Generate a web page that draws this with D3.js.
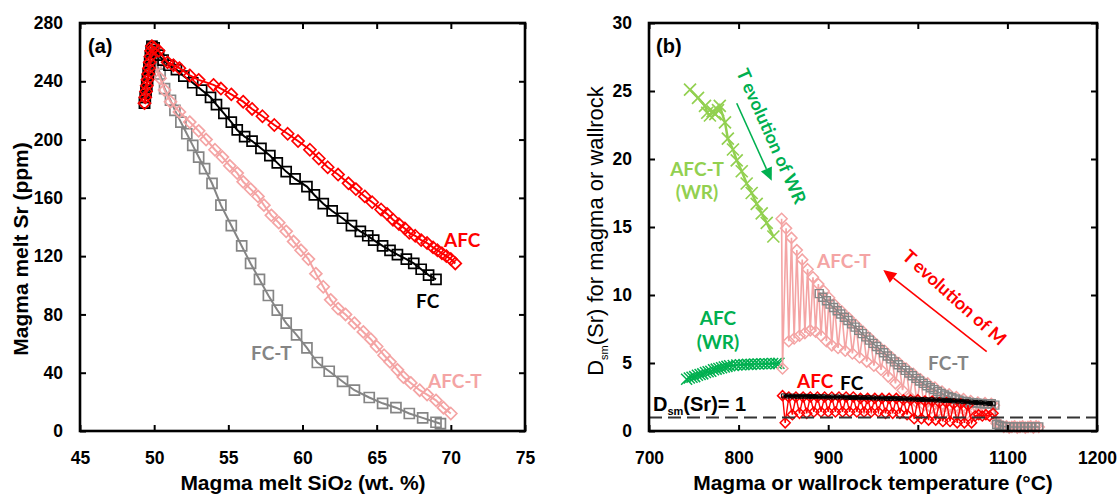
<!DOCTYPE html>
<html><head><meta charset="utf-8">
<script src="https://cdn.jsdelivr.net/npm/d3@7"></script>
<style>
body{margin:0;background:#fff}
svg{display:block}
.tick text{font-family:"Liberation Sans",Arial,sans-serif;font-weight:bold;font-size:17.5px;fill:#000}
.tick line{stroke:#000;stroke-width:2}
.domain{display:none}
.ann{font-family:Lato,"Open Sans",sans-serif;font-weight:bold}
.ax{font-family:"Liberation Sans",Arial,sans-serif}
</style></head><body><svg id="c" width="1120" height="495"></svg>
<script>
// ---------- Panel (a) data: [SiO2 wt.%, Sr ppm] ----------
const startA = [[49.35,225],[49.4,229],[49.45,233],[49.5,237],[49.55,241],[49.6,245],[49.65,249],[49.7,253],[49.75,257],[49.8,261],[49.85,264]];
const fcA = [[50.0,263],[50.3,258],[50.6,254.5],[51.0,251],[51.5,248],[52.0,243.5],[52.6,239],[53.2,234],[53.8,229],[54.2,224],[54.7,218],[55.2,212],[55.6,206.6],[56.1,202],[56.6,199],[57.2,194],[57.8,189],[58.3,184],[58.9,178],[59.5,173],[60.3,167.7],[60.8,162],[61.4,156],[62.0,151],[62.7,146],[63.3,141],[63.9,137],[64.4,134],[64.8,131],[65.4,127],[65.9,124],[66.4,121],[67.0,118],[67.5,115],[68.0,111],[68.5,107],[69.0,104]];
const afcA = [[50.0,263],[50.3,261],[50.9,253],[51.3,251],[51.7,249],[52.4,244],[53.0,241],[54.0,237.5],[54.5,235],[55.2,231],[56.0,226],[56.6,221],[57.3,216],[58.1,210],[59.0,204],[59.7,199],[60.5,193],[61.1,187],[61.7,181],[62.4,176],[63.1,170],[63.6,166],[64.2,161],[64.7,157],[65.3,152],[65.7,149],[66.1,145],[66.5,142],[66.9,139],[67.2,136],[67.6,134],[68.0,131],[68.4,129],[68.8,126],[69.1,124],[69.4,122],[69.7,120],[70.0,118],[70.3,115]];
const afcTA = [[50.1,250],[50.4,242],[50.7,234],[51.1,226],[51.7,219],[52.4,212],[53.0,206],[53.5,200],[54.1,193],[54.6,188],[55.1,182],[55.6,177],[56.0,171],[56.5,166],[57.0,161],[57.4,155],[57.9,148],[58.4,143],[58.9,137],[59.4,130],[59.9,124],[60.4,118],[60.9,108],[61.4,99],[61.9,90],[62.4,84],[62.9,80],[63.5,74],[64.1,68],[64.6,63],[65.0,58],[65.5,52],[65.9,47.5],[66.4,42],[66.8,37],[67.3,33],[67.9,28],[68.4,25],[69.0,21],[69.5,16],[70.0,12]];
const fcTA = [[50.0,258],[50.4,245],[50.7,235],[51.1,227],[51.4,220],[51.8,212],[52.2,204],[52.6,196],[53.0,188],[53.4,180],[53.9,170],[54.5,155],[55.2,141],[55.9,127],[56.5,115],[57.1,104],[57.7,93],[58.3,83],[58.9,74],[59.6,66],[60.3,57],[61.0,47],[61.8,41],[62.7,34],[63.5,28],[64.5,23],[65.4,19],[66.3,16],[67.2,12],[68.1,9],[69.0,6],[69.3,5]];
const xTicksA = [45,50,55,60,65,70,75];
const yTicksA = [0,40,80,120,160,200,240,280];

// ---------- Panel (b) data: [temperature °C, Dsm(Sr)] ----------
const wrAfcT = [[745.8,25.1],[754.7,24.5],[762.5,23.9],[765,23.4],[768,23.2],[771,23.5],[774,23.3],[777,23.6],[779,23.9],[784.8,22.7],[788,21.5],[793.7,20.7],[797.9,19.9],[803.5,19.1],[809,18.2],[814.6,17.5],[820.2,16.7],[825.8,16.0],[831.4,15.3],[838.8,14.3]];
const wrAfc = [[742,3.8],[745,3.9],[748,3.95],[751,4.0],[754,4.1],[757,4.15],[760,4.2],[763,4.3],[766,4.35],[769,4.4],[772,4.5],[775,4.55],[778,4.6],[781,4.65],[784,4.7],[787,4.75],[790,4.8],[794,4.82],[798,4.85],[802,4.87],[806,4.88],[810,4.9],[814,4.9],[818,4.92],[822,4.93],[826,4.94],[830,4.95],[834,4.95],[838,4.96],[842,4.97],[845,4.98]];
const mAfcT = [[1135,0.3],[1132,0.35],[1129,0.25],[1126,0.35],[1123,0.3],[1120,0.25],[1117,0.35],[1114,0.3],[1111,0.25],[1108,0.35],[1105,0.3],[1102,0.25],[1099,0.35],[1096,0.3],[1093,0.4],[1090,0.45],[1088,0.55],[1086,0.8],[1085,1.9],[1082,2.0],[1079,1.7],[1075,2.05],[1071,1.5],[1067,2.1],[1063,1.4],[1059,2.2],[1055,1.3],[1051,2.35],[1047,1.3],[1043,2.5],[1039,1.3],[1035,2.7],[1031,1.4],[1027,2.9],[1023,1.5],[1019,3.2],[1015,1.7],[1011,3.5],[1007,1.9],[1003,3.8],[999,2.1],[995,4.2],[991,2.5],[987,4.6],[983,3.0],[979,5.0],[975,3.5],[971,5.4],[967,4.0],[963,5.9],[959,4.5],[955,6.3],[951,4.8],[947,6.8],[943,5.1],[939,7.3],[935,5.4],[931,7.8],[927,5.7],[923,8.3],[919,5.9],[915,8.8],[911,6.1],[907,9.3],[904,6.3],[901,9.8],[898,6.6],[895,10.3],[892,7.0],[889,10.8],[886,7.3],[883,11.3],[880,7.4],[877,11.9],[874,7.2],[871,12.6],[868,7.0],[865,13.3],[862,6.8],[859,14.2],[856,6.6],[853,14.9],[849,4.6],[848,15.6]];
const mFcT = [[1135,0.3],[1131,0.3],[1127,0.3],[1123,0.3],[1119,0.3],[1115,0.3],[1111,0.3],[1107,0.3],[1103,0.3],[1099,0.3],[1095,0.35],[1091,0.4],[1088,0.5],[1086,1.9],[1082,2.0],[1078,2.0],[1074,2.0],[1070,2.02],[1066,2.05],[1062,2.08],[1058,2.1],[1054,2.15],[1050,2.2],[1046,2.27],[1042,2.35],[1038,2.44],[1034,2.54],[1030,2.65],[1026,2.77],[1022,2.9],[1018,3.04],[1014,3.18],[1010,3.33],[1006,3.5],[1002,3.68],[998,3.87],[994,4.06],[990,4.26],[986,4.46],[982,4.66],[978,4.87],[974,5.08],[970,5.3],[966,5.52],[962,5.75],[958,5.98],[954,6.21],[950,6.44],[946,6.68],[942,6.92],[938,7.16],[934,7.4],[930,7.64],[926,7.88],[922,8.12],[918,8.36],[914,8.6],[910,8.84],[906,9.08],[902,9.33],[898,9.58],[894,9.83],[890,10.1]];
const mAfc = [[1084,1.3],[1080,1.1],[1076,1.2],[1072,1.1],[1068,1.2],[1064,1.1],[1060,0.6],[1056,1.9],[1052,0.6],[1048,2.0],[1044,0.6],[1040,2.0],[1036,0.7],[1032,2.1],[1028,0.7],[1024,2.1],[1020,0.8],[1016,2.2],[1012,0.8],[1008,2.2],[1004,0.9],[1000,2.3],[996,0.9],[992,2.3],[988,1.2],[984,2.3],[980,1.3],[976,2.4],[972,1.3],[968,2.4],[964,1.3],[960,2.4],[956,1.4],[952,2.4],[948,1.4],[944,2.4],[940,1.4],[936,2.4],[932,1.4],[928,2.5],[924,1.4],[920,2.5],[916,1.4],[912,2.5],[908,1.4],[904,2.5],[900,1.4],[896,2.5],[892,1.4],[888,2.5],[884,1.4],[880,2.5],[876,1.3],[872,2.5],[868,1.3],[864,2.5],[860,1.2],[856,2.5],[852,0.6],[849,2.6]];
const mFc = [[1084,2.0],[1080,2.02],[1075,2.05],[1070,2.08],[1065,2.1],[1060,2.12],[1055,2.15],[1050,2.18],[1045,2.2],[1040,2.22],[1035,2.25],[1030,2.25],[1025,2.27],[1020,2.28],[1015,2.3],[1010,2.3],[1005,2.32],[1000,2.33],[995,2.35],[990,2.35],[985,2.37],[980,2.38],[975,2.4],[970,2.4],[965,2.4],[960,2.42],[955,2.42],[950,2.43],[945,2.45],[940,2.45],[935,2.45],[930,2.47],[925,2.47],[920,2.48],[915,2.5],[910,2.5],[905,2.5],[900,2.5],[895,2.52],[890,2.52],[885,2.53],[880,2.53],[875,2.55],[870,2.55],[865,2.55],[860,2.56],[855,2.57],[850,2.58]];
const dRef = 1;
const xTicksB = [700,800,900,1000,1100,1200];
const yTicksB = [0,5,10,15,20,25,30];

const svg = d3.select("#c");
svg.append("rect").attr("width",1120).attr("height",495).attr("fill","#fff");

const xA = d3.scaleLinear([45,75],[80,525]);
const yA = d3.scaleLinear([0,280],[431,23]);
const xB = d3.scaleLinear([700,1200],[649,1097]);
const yB = d3.scaleLinear([0,30],[431,23]);

const diamond = s => {const h=s/2; return `M0,${-h}L${h},0L0,${h}L${-h},0Z`;};
const square = s => {const h=s/2; return `M${-h},${-h}h${s}v${s}h${-s}Z`;};
const cross = s => {const h=s/2; return `M${-h},${-h}L${h},${h}M${-h},${h}L${h},${-h}`;};

function series(g, data, x, y, o){
  const line = d3.line().x(d=>x(d[0])).y(d=>y(d[1]));
  g.append("path").attr("d",line(data)).attr("fill","none").attr("stroke",o.lc||o.c).attr("stroke-width",o.lw);
  g.append("g").selectAll("path").data(data).join("path")
    .attr("transform",d=>`translate(${x(d[0])},${y(d[1])})`)
    .attr("d",o.sym(o.s)).attr("fill","none").attr("stroke",o.c).attr("stroke-width",o.sw);
}

const fmt = d3.format("d");
function frame(x,y,xt,yt){
  const [x0,x1]=x.range(), [y0,y1]=y.range();
  svg.append("g").attr("transform",`translate(0,${y0})`).call(d3.axisBottom(x).tickValues(xt).tickFormat(fmt).tickSize(-6).tickSizeOuter(0).tickPadding(21));
  svg.append("g").attr("transform",`translate(0,${y1})`).call(d3.axisTop(x).tickValues(xt).tickSize(-6).tickSizeOuter(0).tickFormat(""));
  svg.append("g").attr("transform",`translate(${x0},0)`).call(d3.axisLeft(y).tickValues(yt).tickFormat(fmt).tickSize(-6).tickSizeOuter(0).tickPadding(17));
  svg.append("g").attr("transform",`translate(${x1},0)`).call(d3.axisRight(y).tickValues(yt).tickSize(-6).tickSizeOuter(0).tickFormat(""));
  svg.append("rect").attr("x",x0).attr("y",y1).attr("width",x1-x0).attr("height",y0-y1)
    .attr("fill","none").attr("stroke","#000").attr("stroke-width",2.6);
}

const C = {red:"#ff0000", pink:"#f4a4a4", gray:"#858585", lg:"#92d050", dg:"#00b050"};

// ---------- Panel (a) ----------
const gA = svg.append("g");
series(gA, startA.concat(fcTA), xA, yA, {c:C.gray, lw:2, sym:square, s:10, sw:1.7});
series(gA, startA.concat(afcTA), xA, yA, {c:C.pink, lw:2, sym:diamond, s:12, sw:1.7});
series(gA, startA.concat(fcA), xA, yA, {c:"#000", lw:2, sym:square, s:10, sw:1.7});
series(gA, startA.concat(afcA), xA, yA, {c:C.red, lw:2, sym:diamond, s:12, sw:1.7});
frame(xA,yA,xTicksA,yTicksA);

// ---------- Panel (b) ----------
const gB = svg.append("g");
series(gB, wrAfcT, xB, yB, {c:C.lg, lw:2.5, sym:cross, s:12, sw:1.7});
series(gB, wrAfc, xB, yB, {c:C.dg, lw:1.5, sym:cross, s:11, sw:1.5});
series(gB, mAfcT, xB, yB, {c:C.pink, lw:1.6, sym:diamond, s:11, sw:1.5});
series(gB, mFcT, xB, yB, {c:C.gray, lw:1.5, sym:square, s:8, sw:1.4});
series(gB, mAfc, xB, yB, {c:C.red, lw:1.4, sym:diamond, s:10, sw:1.5});
series(gB, mFc, xB, yB, {c:"#000", lw:3, sym:square, s:4, sw:1});
svg.append("line").attr("x1",xB(700)).attr("x2",xB(1200)).attr("y1",yB(dRef)).attr("y2",yB(dRef))
  .attr("stroke","#333").attr("stroke-width",2).attr("stroke-dasharray","13,6");
frame(xB,yB,xTicksB,yTicksB);

// ---------- text ----------
function txt(x,y,s,o){
  const t=svg.append("text").attr("x",x).attr("y",y).text(s).attr("class",o.cls||"ax")
    .attr("font-size",o.fs).attr("font-weight",o.fw||"bold").attr("fill",o.c||"#000")
    .attr("text-anchor",o.a||"start");
  if(o.r!==undefined) t.attr("transform",`rotate(${o.r},${x},${y})`);
  return t;
}
txt(88,53,"(a)",{fs:20});
txt(656,53,"(b)",{fs:20});
// axis titles
const tA = txt(303,490,"Magma melt SiO",{fs:21,a:"middle"});
tA.append("tspan").attr("font-size",15).text("2");
tA.append("tspan").text(" (wt. %)");
txt(873,490,"Magma or wallrock temperature (°C)",{fs:21,a:"middle"});
txt(28,249,"Magma melt Sr (ppm)",{fs:21,a:"middle",r:-90});
const tB = txt(603,231,"D",{fs:22,a:"middle",r:-90,fw:"normal"});
tB.append("tspan").attr("font-size",11).attr("dy",5).text("sm");
tB.append("tspan").attr("dy",-5).text("(Sr) for magma or wallrock");
// series labels (a)
txt(444,247,"AFC",{fs:19,c:C.red,cls:"ann"});
txt(416,308,"FC",{fs:19,c:"#000",cls:"ann"});
txt(251,360,"FC-T",{fs:19,c:C.gray,cls:"ann"});
txt(428,388,"AFC-T",{fs:19,c:C.pink,cls:"ann"});
// series labels (b)
txt(697,176,"AFC-T",{fs:19,c:C.lg,cls:"ann",a:"middle"});
txt(697,199,"(WR)",{fs:19,c:C.lg,cls:"ann",a:"middle"});
txt(718,325,"AFC",{fs:19,c:C.dg,cls:"ann",a:"middle"});
txt(718,349,"(WR)",{fs:19,c:C.dg,cls:"ann",a:"middle"});
txt(817,268,"AFC-T",{fs:19,c:C.pink,cls:"ann"});
txt(928,370,"FC-T",{fs:19,c:C.gray,cls:"ann"});
txt(797,388,"AFC",{fs:19,c:C.red,cls:"ann"});
txt(840,390,"FC",{fs:19,c:"#000",cls:"ann"});
const tD = txt(653,411,"D",{fs:20});
tD.append("tspan").attr("font-size",11).attr("dy",4).text("sm");
tD.append("tspan").attr("dy",-4).text("(Sr)= 1");
// arrows
function arrow(p0,p1,c){
  const x0=xB(p0[0]),y0=yB(p0[1]),x1=xB(p1[0]),y1=yB(p1[1]);
  const a=Math.atan2(y1-y0,x1-x0), L=13, Wd=6;
  const bx=x1-L*Math.cos(a), by=y1-L*Math.sin(a);
  svg.append("line").attr("x1",x0).attr("y1",y0).attr("x2",bx).attr("y2",by).attr("stroke",c).attr("stroke-width",1.6);
  svg.append("path").attr("d",`M${x1},${y1}L${bx+Wd*Math.sin(a)},${by-Wd*Math.cos(a)}L${bx-Wd*Math.sin(a)},${by+Wd*Math.cos(a)}Z`).attr("fill",c);
}
arrow([797.9,24.1],[837,18.4],C.dg);
arrow([1076.9,5.83],[961.5,11.84],C.red);
svg.append("text").attr("class","ann").attr("font-size",18).attr("font-weight","bold").attr("fill",C.dg)
  .attr("text-anchor","middle").attr("dominant-baseline","central")
  .attr("transform","translate(772,136) rotate(66)").text("T evolution of WR");
svg.append("text").attr("class","ann").attr("font-size",18).attr("font-weight","bold").attr("fill",C.red)
  .attr("text-anchor","middle").attr("dominant-baseline","central")
  .attr("transform","translate(955,297) rotate(42)").text("T evolution of M");
</script></body></html>
